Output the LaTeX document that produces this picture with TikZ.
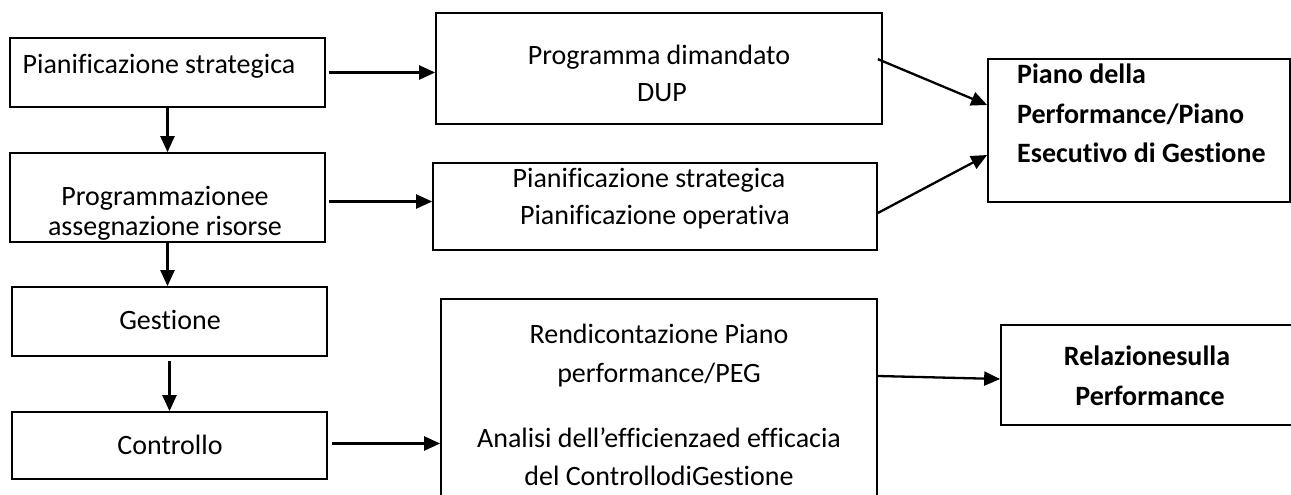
\documentclass[tikz,border=0pt]{standalone}
\usepackage{fontspec}
\setmainfont{Carlito}[Ligatures={NoCommon,NoRequired,NoContextual}]
\usetikzlibrary{arrows.meta,calc}
\tikzset{
  box/.style={draw=black, line width=1.7pt, inner sep=0pt, rectangle},
  txt/.style={font=\fontsize{28}{32}\selectfont, inner sep=0pt, anchor=base},
  btxt/.style={font=\fontsize{28}{32}\selectfont\bfseries, inner sep=0pt, anchor=base},
  arr/.style={line width=2.3pt, -{Triangle[length=16pt,width=14pt]}}
}
\begin{document}
\begin{tikzpicture}[x=1pt,y=-1pt]
\clip (0,0) rectangle (1291,495);
\fill[white] (0,0) rectangle (1291,495);
% boxes
\node[box, minimum width=315pt, minimum height=69pt] (A) at (167.5,72.5) {};
\node[box, minimum width=315pt, minimum height=89pt] (B) at (167.5,197.5) {};
\node[box, minimum width=315pt, minimum height=69pt] (C) at (169.5,321.5) {};
\node[box, minimum width=315pt, minimum height=67pt] (D) at (169.5,445.5) {};
\node[box, minimum width=446pt, minimum height=111pt] (E) at (659,68.5) {};
\node[box, minimum width=444pt, minimum height=87pt] (F) at (655,206.5) {};
\node[box, minimum width=302pt, minimum height=143pt] (G) at (1139,130.5) {};
\node[box, minimum width=436pt, minimum height=211pt] (H) at (659,404.5) {};
\node[box, minimum width=305pt, minimum height=100pt] (I) at (1153.5,375) {};
% texts
\node[txt] (tA) at (159,74) {Pianificazione strategica};
\node[txt] (tB1) at (165,205) {Programmazionee};
\node[txt] (tB2) at (165,235) {assegnazione risorse};
\node[txt] (tC) at (170,329) {Gestione};
\node[txt] (tD) at (170,454) {Controllo};
\node[txt] (tE1) at (659,65) {Programma dimandato};
\node[txt] (tE2) at (662,102) {DUP};
\node[txt] (tF1) at (649,187) {Pianificazione strategica};
\node[txt] (tF2) at (655,224) {Pianificazione operativa};
\node[btxt, anchor=base west] (tG1) at (1017,84) {Piano della};
\node[btxt, anchor=base west] (tG2) at (1017,123) {Performance/Piano};
\node[btxt, anchor=base west] (tG3) at (1017,162) {Esecutivo di Gestione};
\node[txt] (tH1) at (659,343) {Rendicontazione Piano};
\node[txt] (tH2) at (659,382) {performance/PEG};
\node[txt] (tH3) at (659,447) {Analisi dell’efficienzaed efficacia};
\node[txt] (tH4) at (659,485) {del ControllodiGestione};
\node[btxt] (tI1) at (1147,365) {Relazionesulla};
\node[btxt] (tI2) at (1150,405) {Performance};
% connectors
\draw[arr] (A.south) -- (A.south |- B.north);
\draw[arr] (B.south) -- (B.south |- C.north);
\draw[arr, shorten <=4pt] (C.south) -- (C.south |- D.north);
\draw[arr, shorten <=3pt] (A.east) -- (A.east -| E.west);
\draw[arr, shorten <=3pt] ([yshift=-4pt]B.east) -- ([yshift=-4pt]B.east -| F.west);
\draw[arr, shorten <=4pt] ([yshift=2pt]D.east) -- ([yshift=2pt]D.east -| H.west);
\draw[arr] ([xshift=-5pt,yshift=-47pt]E.north east) -- ([yshift=25.5pt]G.west);
\draw[arr] ([yshift=-6.5pt]F.east) -- ([yshift=-24.5pt]G.west);
\draw[arr] ([yshift=28.5pt]H.east) -- ([yshift=-4pt]I.west);
\end{tikzpicture}
\end{document}
